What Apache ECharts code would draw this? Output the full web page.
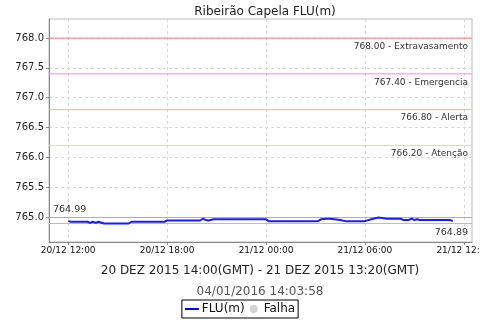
<!DOCTYPE html>
<html><head><meta charset="utf-8">
<script src="https://cdn.jsdelivr.net/npm/echarts@6/dist/echarts.min.js"></script>
<style>html,body{margin:0;padding:0;background:#fff}#c{width:480px;height:320px}</style>
</head><body><div id="c"></div>
<script>
var times = ['2015-12-20 12:00','2015-12-20 12:10','2015-12-20 13:10','2015-12-20 13:20','2015-12-20 13:30','2015-12-20 13:40','2015-12-20 13:50','2015-12-20 14:10','2015-12-20 15:40','2015-12-20 15:50','2015-12-20 17:50','2015-12-20 18:00','2015-12-20 20:00','2015-12-20 20:10','2015-12-20 20:20','2015-12-20 20:30','2015-12-20 20:50','2015-12-21 00:00','2015-12-21 00:10','2015-12-21 03:10','2015-12-21 03:20','2015-12-21 03:40','2015-12-21 03:50','2015-12-21 04:10','2015-12-21 04:30','2015-12-21 04:50','2015-12-21 06:00','2015-12-21 06:30','2015-12-21 06:50','2015-12-21 07:20','2015-12-21 08:10','2015-12-21 08:20','2015-12-21 08:40','2015-12-21 08:50','2015-12-21 09:00','2015-12-21 09:10','2015-12-21 09:20','2015-12-21 11:10','2015-12-21 11:20'];
var values = [764.93,764.92,764.92,764.90,764.92,764.90,764.92,764.89,764.89,764.92,764.92,764.94,764.94,764.97,764.95,764.94,764.96,764.96,764.93,764.93,764.96,764.97,764.97,764.96,764.95,764.93,764.93,764.97,764.99,764.97,764.97,764.95,764.95,764.97,764.95,764.96,764.95,764.95,764.93];
var xTicks = ['2015-12-20 12:00','2015-12-20 18:00','2015-12-21 00:00','2015-12-21 06:00','2015-12-21 12:00'];
var yTicks = [765.0,765.5,766.0,766.5,767.0,767.5,768.0];
var thresholds = [768.00,767.40,766.80,766.20];
var thresholdNames = ['Extravasamento','Emergencia','Alerta','Atenção'];
var thresholdColors = ['#f47878','#ff80ff','#ffb860','#ebdf80'];
var maxValue = 764.99, minValue = 764.89;
var xMin = '2015-12-20 10:50', xMax = '2015-12-21 12:30';
var yMin = 764.58, yMax = 768.32;

function ts(s){var p=s.split(/[- :]/);return Date.UTC(+p[0],+p[1]-1,+p[2],+p[3],+p[4]);}
function pad(n){return (n<10?'0':'')+n;}
var data = times.map(function(t,i){return [ts(t),values[i]];});
var font = 'DejaVu Sans';
var hidden = {color:'rgba(0,0,0,0)',width:1,type:'solid'};
var markData = thresholds.map(function(v,i){
  return {yAxis:v,lineStyle:hidden,
    label:{show:true,position:'insideEndBottom',formatter:v.toFixed(2)+' - '+thresholdNames[i],color:'#333',fontSize:9,fontFamily:font,distance:[4,4]}};
});
markData.push({yAxis:maxValue,lineStyle:hidden,
  label:{show:true,position:'insideStartTop',formatter:maxValue.toFixed(2),color:'#333',fontSize:9.5,fontFamily:font,distance:[4,3]}});
markData.push({yAxis:minValue,lineStyle:hidden,
  label:{show:true,position:'insideEndBottom',formatter:minValue.toFixed(2),color:'#333',fontSize:9.5,fontFamily:font,distance:[4,4]}});

var refLevels = thresholds.concat([maxValue,minValue]);
var refColors = thresholdColors.concat(['#aaaaaa','#bbbbbb']);
var refSeries = refLevels.map(function(v,i){
  return {name:'ref'+i,type:'line',data:[[ts(xMin),v],[ts(xMax),v]],showSymbol:false,silent:true,z:2,
    color:refColors[i],lineStyle:{color:refColors[i],width:1,type:'solid'}};
});

var chart = echarts.init(document.getElementById('c'),null,{renderer:'canvas'});
chart.setOption({
  animation:false,
  textStyle:{fontFamily:font},
  title:[
    {text:'Ribeirão Capela FLU(m)',left:260,textAlign:'center',top:1,textStyle:{fontSize:12,fontWeight:'normal',color:'#222',fontFamily:font}},
    {text:'20 DEZ 2015 14:00(GMT) - 21 DEZ 2015 13:20(GMT)',left:255,textAlign:'center',top:260,textStyle:{fontSize:12,fontWeight:'normal',color:'#222',fontFamily:font}},
    {text:'04/01/2016 14:03:58',left:255,textAlign:'center',top:281,textStyle:{fontSize:12,fontWeight:'normal',color:'#555',fontFamily:font}}
  ],
  legend:{bottom:2,left:'center',data:[{name:'FLU(m)',icon:'path://M0,0H10V1.4H0Z'},{name:'Falha',icon:'circle'}],
    borderColor:'#000',borderWidth:1,padding:[3,3,3,3],itemGap:5,itemWidth:14,itemHeight:8,
    textStyle:{fontSize:12,color:'#111',fontFamily:font,padding:[0,0,0,-2]}},
  grid:{left:49,right:8,top:19,bottom:78,show:true,borderColor:'#bbb',borderWidth:1,containLabel:false,outerBoundsMode:'none'},
  xAxis:{type:'value',min:ts(xMin),max:ts(xMax),
    axisLine:{lineStyle:{color:'#888'}},
    axisTick:{show:true,length:3,lineStyle:{color:'#888'},customValues:xTicks.map(ts)},
    axisLabel:{customValues:xTicks.map(ts),fontSize:9,color:'#111',fontFamily:font,margin:4,hideOverlap:false,
      formatter:function(v){var d=new Date(v);return pad(d.getUTCDate())+'/'+pad(d.getUTCMonth()+1)+' '+pad(d.getUTCHours())+':'+pad(d.getUTCMinutes());}},
    splitLine:{show:true,lineStyle:{color:'#d8d8d8',type:[3,3]}}},
  yAxis:{type:'value',min:yMin,max:yMax,
    axisLine:{show:true,lineStyle:{color:'#888'}},
    axisTick:{show:true,length:3,lineStyle:{color:'#888'},customValues:yTicks},
    axisLabel:{customValues:yTicks,fontSize:10,color:'#222',fontFamily:font,margin:5,formatter:function(v){return v.toFixed(1);}},
    splitLine:{show:true,lineStyle:{color:'#d8d8d8',type:[3,3]}}},
  series:[
    {name:'FLU(m)',type:'line',data:data,color:'#0000ff',showSymbol:false,lineStyle:{width:2,color:'#1a1aff'},z:5,
      markLine:{silent:true,symbol:['none','none'],animation:false,data:markData}},
    {name:'Falha',type:'scatter',data:[],color:'#c8c8c8'}
  ].concat(refSeries)
});
</script></body></html>
